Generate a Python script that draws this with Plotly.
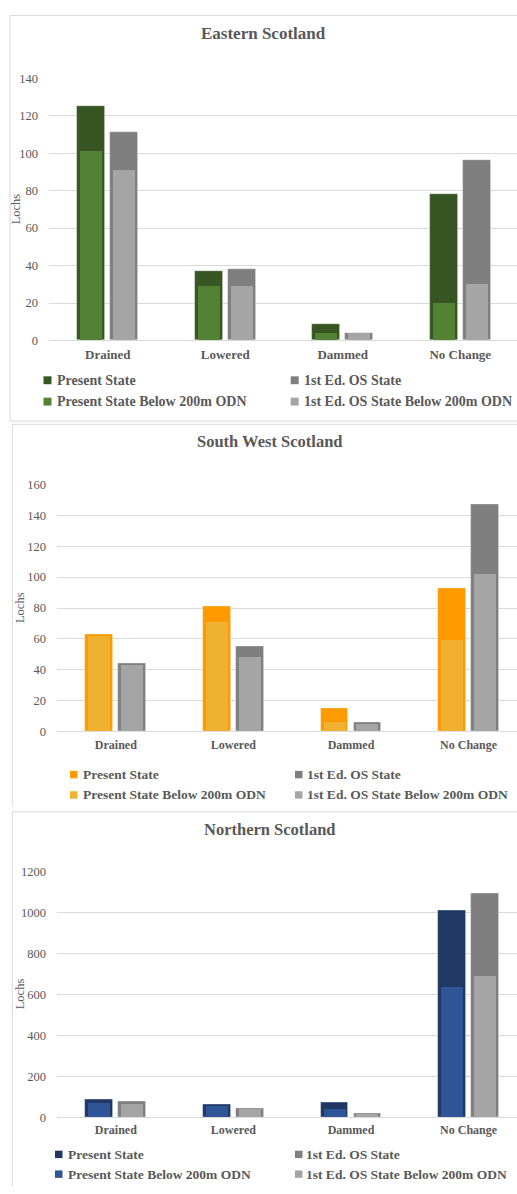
import plotly.graph_objects as go

# ---------------- data ----------------
categories = ["Drained", "Lowered", "Dammed", "No Change"]
series_names = ["Present State", "1st Ed. OS State",
                "Present State Below 200m ODN", "1st Ed. OS State Below 200m ODN"]

east_present = [125, 37, 9, 78]
east_first = [111, 38, 4, 96]
east_present_low = [101, 29, 4, 20]
east_first_low = [91, 29, 4, 30]

sw_present = [63, 81, 15, 93]
sw_first = [44, 55, 6, 147]
sw_present_low = [62, 71, 6, 59]
sw_first_low = [43, 48, 5, 102]

north_present = [85, 64, 72, 1008]
north_first = [77, 43, 16, 1092]
north_present_low = [69, 51, 40, 633]
north_first_low = [61, 37, 13, 686]

panel_titles = ["Eastern Scotland", "South West Scotland", "Northern Scotland"]
y_axis_title = "Lochs"

# ---------------- style ----------------
W, H = 517, 1194
SERIF = "Liberation Serif, Times New Roman, serif"
TXT = "#595959"
GRID = "#D9D9D9"


def fx(x):
    return x / W


def fy(y):
    return 1 - y / H


panels = [
    dict(data=[east_present, east_first, east_present_low, east_first_low],
         colors=["#375623", "#7F7F7F", "#548235", "#A5A5A5"],
         left=49, spacing=117.5, y0=337.5, ytop=72, ymax=140, dtick=20,
         title_xy=(263.5, 27), title_size=17, cat_size=13, tick_size=12.5,
         leg_rows=(377.7, 399.3), leg_mx=(43.5, 290.7), leg_tx=(55, 301.5),
         leg_size=14, msize=8, lochs_x=16, border=(10, 8.5, 419)),
    dict(data=[sw_present, sw_first, sw_present_low, sw_first_low],
         colors=["#FF9900", "#7F7F7F", "#F0B030", "#A5A5A5"],
         left=57, spacing=117.6, y0=733.3, ytop=483, ymax=160, dtick=20,
         title_xy=(270, 440), title_size=16.5, cat_size=12, tick_size=12.5,
         leg_rows=(776.7, 797.3), leg_mx=(70, 295), leg_tx=(81, 305),
         leg_size=13.5, msize=7.5, lochs_x=20, border=(12.3, 422.3, None)),
    dict(data=[north_present, north_first, north_present_low, north_first_low],
         colors=["#1F3864", "#7F7F7F", "#2F5597", "#A5A5A5"],
         left=57, spacing=117.6, y0=1123.3, ytop=874.7, ymax=1200, dtick=200,
         title_xy=(270, 832.5), title_size=16.5, cat_size=12, tick_size=12.5,
         leg_rows=(1161, 1181), leg_mx=(55, 295), leg_tx=(65.7, 304.3),
         leg_size=13.5, msize=7.5, lochs_x=20, border=(12.3, 814.3, None)),
]
border_bottoms = [419, 809, H]

OUTER_W = 0.236
INNER_W = 0.187
GAP = 0.044
outer_offsets = [-GAP / 2 - OUTER_W, GAP / 2]
inner_offsets = [o + (OUTER_W - INNER_W) / 2 for o in outer_offsets]

fig = go.Figure()
shapes = []
annotations = []

for i, p in enumerate(panels):
    sfx = "" if i == 0 else str(i + 1)
    xa, ya = "x" + sfx, "y" + sfx
    for k in range(4):
        is_inner = k >= 2
        fig.add_trace(go.Bar(
            x=categories, y=p["data"][k], name=series_names[k],
            xaxis=xa, yaxis=ya,
            marker=dict(color=p["colors"][k],
                        line=dict(width=0 if is_inner else 0.8,
                                  color="rgba(255,255,255,0.45)")),
            width=INNER_W if is_inner else OUTER_W,
            offset=(inner_offsets if is_inner else outer_offsets)[k % 2],
            showlegend=False,
        ))
    right_units = (W - p["left"]) / p["spacing"] - 0.5
    fig.layout["xaxis" + sfx] = dict(
        domain=[fx(p["left"]), 1], anchor=ya, range=[-0.5, right_units],
        type="category", showgrid=False, showline=False, zeroline=False,
        ticks="", ticklabelstandoff=4,
        tickfont=dict(family=SERIF, size=p["cat_size"], color=TXT, weight="bold"),
        fixedrange=True,
    )
    fig.layout["yaxis" + sfx] = dict(
        domain=[fy(p["y0"]), fy(p["ytop"])], anchor=xa,
        range=[0, p["ymax"]], dtick=p["dtick"], tick0=0,
        showgrid=True, gridcolor=GRID, gridwidth=1,
        zeroline=True, zerolinecolor=GRID, zerolinewidth=1,
        showline=False, ticks="", ticklabelstandoff=10,
        tickfont=dict(family=SERIF, size=p["tick_size"], color=TXT),
        fixedrange=True,
    )
    # panel title
    annotations.append(dict(
        text="<b>%s</b>" % panel_titles[i], x=fx(p["title_xy"][0]), y=fy(p["title_xy"][1]),
        xref="paper", yref="paper", xanchor="center", yanchor="middle", showarrow=False,
        font=dict(family=SERIF, size=p["title_size"], color=TXT)))
    # y-axis title
    annotations.append(dict(
        text=y_axis_title, x=fx(p["lochs_x"]), y=fy((p["y0"] + p["ytop"]) / 2),
        xref="paper", yref="paper", xanchor="center", yanchor="middle", showarrow=False,
        textangle=-90, font=dict(family=SERIF, size=12.5, color=TXT)))
    # legend (2 columns x 2 rows)
    for k in range(4):
        col, row = k % 2, k // 2
        cy = p["leg_rows"][row]
        mx = p["leg_mx"][col]
        m = p["msize"]
        shapes.append(dict(type="rect", xref="paper", yref="paper",
                           x0=fx(mx), x1=fx(mx + m), y0=fy(cy + m / 2), y1=fy(cy - m / 2),
                           fillcolor=p["colors"][k], line=dict(width=0)))
        annotations.append(dict(
            text="<b>%s</b>" % series_names[k], x=fx(p["leg_tx"][col]), y=fy(cy),
            xref="paper", yref="paper", xanchor="left", yanchor="middle", showarrow=False,
            font=dict(family=SERIF, size=p["leg_size"], color=TXT)))
    # panel border (left, top and, where visible, bottom edges)
    bx0, by0, by1 = p["border"]
    line_style = dict(color=GRID, width=1)
    shapes.append(dict(type="line", xref="paper", yref="paper",
                       x0=fx(bx0), x1=1, y0=fy(by0), y1=fy(by0), line=line_style, layer="below"))
    shapes.append(dict(type="line", xref="paper", yref="paper",
                       x0=fx(bx0), x1=fx(bx0), y0=fy(by0), y1=max(0, fy(border_bottoms[i])),
                       line=line_style, layer="below"))
    if by1 is not None:
        shapes.append(dict(type="line", xref="paper", yref="paper",
                           x0=fx(bx0), x1=1, y0=fy(by1), y1=fy(by1), line=line_style, layer="below"))

fig.update_layout(
    width=W, height=H, margin=dict(l=0, r=0, t=0, b=0),
    paper_bgcolor="white", plot_bgcolor="white",
    barmode="overlay", bargap=0,
    shapes=shapes, annotations=annotations,
    showlegend=False,
)

fig.write_html("out.html", config={"displayModeBar": False})
